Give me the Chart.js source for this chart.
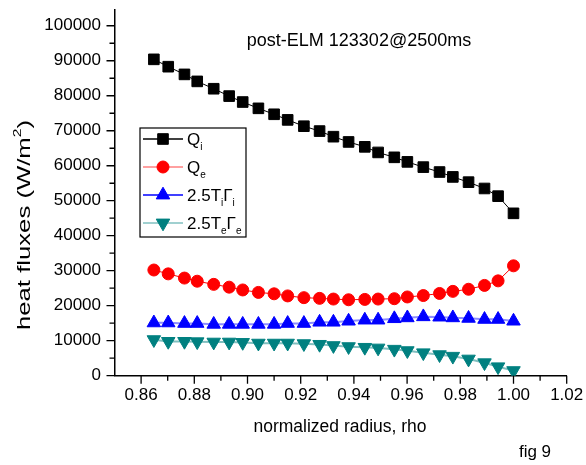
<!DOCTYPE html>
<html>
<head>
<meta charset="utf-8">
<script src="https://cdn.jsdelivr.net/npm/chart.js@4"></script>
<style>
  html, body { margin: 0; padding: 0; background: #fff; }
</style>
</head>
<body>
<canvas id="chart" width="586" height="465"></canvas>
<script>
// normalized radius
const rho = [0.8648, 0.8702, 0.8763, 0.8811, 0.8873, 0.8931, 0.8982, 0.9041, 0.9100, 0.9151,
             0.9212, 0.9271, 0.9323, 0.9380, 0.9441, 0.9491, 0.9552, 0.9601, 0.9661, 0.9722,
             0.9772, 0.9831, 0.9891, 0.9942, 1.0000];

// heat fluxes (W/m^2)
const qi = [90400, 88300, 86100, 84100, 82000, 79900, 78200, 76400, 74700, 73100,
            71300, 69900, 68300, 66800, 65400, 63800, 62400, 61100, 59600, 58200,
            56800, 55300, 53500, 51300, 46400];
const qe = [30200, 29100, 27900, 27000, 26100, 25300, 24500, 23800, 23400, 22800,
            22300, 22100, 21900, 21700, 21800, 21900, 22000, 22500, 22900, 23500,
            24100, 24700, 25800, 27100, 31400];
const tiGi = [15100, 15100, 14950, 14950, 14700, 14700, 14700, 14700, 14700, 14950,
              14950, 15300, 15300, 15600, 15900, 15900, 16300, 16550, 16850, 16750,
              16550, 16400, 16100, 16100, 15600];
const teGe = [10300, 9800, 9800, 9700, 9600, 9600, 9500, 9300, 9300, 9300,
              9150, 8950, 8600, 8300, 8100, 7900, 7550, 7150, 6550, 6000,
              5550, 4750, 3700, 2550, 1450];

// axis ticks
const xTicks = [0.86, 0.88, 0.90, 0.92, 0.94, 0.96, 0.98, 1.00, 1.02];
const xMinor = [0.87, 0.89, 0.91, 0.93, 0.95, 0.97, 0.99, 1.01];
const yTicks = [0, 10000, 20000, 30000, 40000, 50000, 60000, 70000, 80000, 90000, 100000];
const yMinor = [5000, 15000, 25000, 35000, 45000, 55000, 65000, 75000, 85000, 95000];

const FONT = '"Liberation Sans", Arial, sans-serif';

const series = [
  { name: [['Q', 0], ['i', 1]], data: qi, color: '#000000', line: '#000000', legendLine: '#000000', style: 'rect', r: 7.5, rot: 0, lw: 1 },
  { name: [['Q', 0], ['e', 1]], data: qe, color: '#ff0000', line: '#ff0000', legendLine: '#ff8080', style: 'circle', r: 6, rot: 0, lw: 1 },
  { name: [['2.5T', 0], ['i', 1], ['Γ', 0], ['i', 1]], data: tiGi, color: '#0000ff', line: 'rgba(64,64,255,0.6)', legendLine: '#0000ff', style: 'triangle', r: 7.8, rot: 0, lw: 2 },
  { name: [['2.5T', 0], ['e', 1], ['Γ', 0], ['e', 1]], data: teGe, color: '#008080', line: 'rgba(0,128,128,0.5)', legendLine: '#80c0c0', style: 'triangle', r: 7.8, rot: 180, lw: 2 }
];

function drawRich(ctx, parts, x, y, size, subSize) {
  ctx.textAlign = 'left';
  ctx.textBaseline = 'alphabetic';
  let cx = x;
  parts.forEach(([t, sub]) => {
    ctx.font = (sub ? subSize : size) + 'px ' + FONT;
    ctx.fillText(t, cx, sub ? y + 5 : y);
    cx += ctx.measureText(t).width;
  });
}

const decorPlugin = {
  id: 'decor',
  afterDraw(chart) {
    const { ctx, scales: { x, y } } = chart;
    const a = chart.chartArea;
    ctx.save();
    ctx.strokeStyle = '#000';
    ctx.lineWidth = 1.3;
    ctx.beginPath();
    xTicks.forEach(v => { const p = x.getPixelForValue(v); ctx.moveTo(p, a.bottom); ctx.lineTo(p, a.bottom + 8); });
    xMinor.forEach(v => { const p = x.getPixelForValue(v); ctx.moveTo(p, a.bottom); ctx.lineTo(p, a.bottom + 5); });
    yTicks.forEach(v => { const p = y.getPixelForValue(v); ctx.moveTo(a.left, p); ctx.lineTo(a.left - 8, p); });
    yMinor.forEach(v => { const p = y.getPixelForValue(v); ctx.moveTo(a.left, p); ctx.lineTo(a.left - 5, p); });
    ctx.stroke();

    ctx.fillStyle = '#000';
    // title
    ctx.font = '18px ' + FONT;
    ctx.textAlign = 'center';
    ctx.textBaseline = 'alphabetic';
    ctx.fillText('post-ELM 123302@2500ms', 359, 46);
    // x title
    ctx.font = '17.5px ' + FONT;
    ctx.fillText('normalized radius, rho', 340, 432);
    // fig label
    ctx.font = '17px ' + FONT;
    ctx.fillText('fig 9', 535, 457);

    // y title, stretched to reference length
    ctx.save();
    ctx.translate(30, 225);
    ctx.rotate(-Math.PI / 2);
    ctx.font = '18px ' + FONT;
    const w1 = ctx.measureText('heat fluxes (W/m').width;
    const w3 = ctx.measureText(')').width;
    ctx.font = '11px ' + FONT;
    const w2 = ctx.measureText('2').width;
    const total = w1 + w2 + w3;
    ctx.scale(210 / total, 1);
    ctx.textAlign = 'left';
    ctx.font = '18px ' + FONT;
    ctx.fillText('heat fluxes (W/m', -total / 2, 0);
    ctx.font = '11px ' + FONT;
    ctx.fillText('2', -total / 2 + w1, -9);
    ctx.font = '18px ' + FONT;
    ctx.fillText(')', -total / 2 + w1 + w2, 0);
    ctx.restore();

    // legend
    ctx.fillStyle = '#fff';
    ctx.fillRect(140, 128, 106, 109);
    ctx.lineWidth = 1.2;
    ctx.strokeStyle = '#000';
    ctx.strokeRect(140, 128, 106, 109);
    const rows = [139, 167, 195, 223];
    series.forEach((s, i) => {
      const ry = rows[i];
      ctx.strokeStyle = s.legendLine;
      ctx.lineWidth = 1.5;
      ctx.beginPath();
      ctx.moveTo(143, ry);
      ctx.lineTo(183, ry);
      ctx.stroke();
      ctx.fillStyle = s.color;
      ctx.strokeStyle = s.color;
      ctx.lineWidth = 1;
      Chart.helpers.drawPoint(ctx, { pointStyle: s.style, radius: s.r, rotation: s.rot, borderWidth: 1 }, 163, ry);
      ctx.fillStyle = '#000';
      drawRich(ctx, s.name, 187, ry + 6, 17, 10);
    });
    ctx.restore();
  }
};

new Chart(document.getElementById('chart'), {
  type: 'line',
  data: {
    datasets: series.map(s => ({
      data: s.data.map((v, i) => ({ x: rho[i], y: v })),
      borderColor: s.line,
      borderWidth: s.lw,
      pointStyle: s.style,
      pointRotation: s.rot,
      pointRadius: s.r,
      pointBackgroundColor: s.color,
      pointBorderColor: s.color,
      pointBorderWidth: 1,
      tension: 0,
      fill: false
    }))
  },
  options: {
    responsive: false,
    animation: false,
    devicePixelRatio: 1,
    layout: { padding: { left: 0, right: 19.3, top: 9.3, bottom: 0 } },
    plugins: { legend: { display: false }, tooltip: { enabled: false } },
    scales: {
      x: {
        type: 'linear',
        min: 0.85,
        max: 1.02,
        afterBuildTicks: s => { s.ticks = xTicks.map(v => ({ value: v })); },
        afterFit: s => { s.height = 89.3; s.paddingLeft = 0; s.paddingRight = 0; },
        grid: { display: false, drawTicks: false },
        border: { display: true, color: '#000', width: 1.5 },
        ticks: {
          callback: v => v.toFixed(2),
          font: { family: FONT, size: 17 },
          color: '#000',
          padding: 9,
          maxRotation: 0,
          autoSkip: false
        }
      },
      y: {
        min: 0,
        max: 104700,
        afterBuildTicks: s => { s.ticks = yTicks.map(v => ({ value: v })); },
        afterFit: s => { s.width = 114.5; s.paddingTop = 0; s.paddingBottom = 0; },
        grid: { display: false, drawTicks: false },
        border: { display: true, color: '#000', width: 1.5 },
        ticks: {
          callback: v => String(v),
          font: { family: FONT, size: 17 },
          color: '#000',
          padding: 13.5,
          autoSkip: false
        }
      }
    }
  },
  plugins: [decorPlugin]
});
</script>
</body>
</html>
